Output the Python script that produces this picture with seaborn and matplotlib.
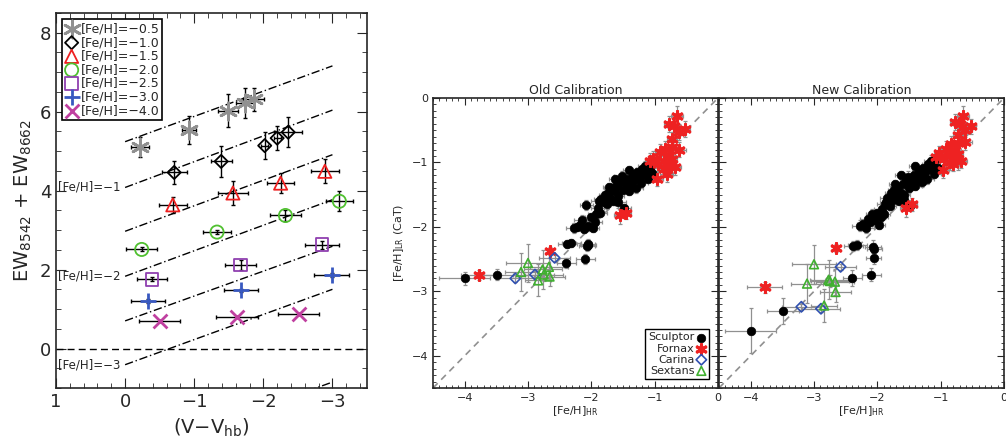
import matplotlib
matplotlib.use('Agg')
import matplotlib.pyplot as plt
from matplotlib.ticker import MultipleLocator
import seaborn as sns

# ---- left panel: CaT equivalent width vs (V - V_hb) ----
feh_labels = ['[Fe/H]=\u22120.5', '[Fe/H]=\u22121.0', '[Fe/H]=\u22121.5', '[Fe/H]=\u22122.0',
              '[Fe/H]=\u22122.5', '[Fe/H]=\u22123.0', '[Fe/H]=\u22124.0']

vhb_m05 = [-0.22, -0.92, -1.49, -1.73, -1.86]
ew_m05 = [5.11, 5.53, 6.02, 6.21, 6.31]
vhb_m10 = [-0.71, -1.39, -2.02, -2.20, -2.36]
ew_m10 = [4.46, 4.74, 5.14, 5.33, 5.48]
vhb_m15 = [-0.69, -1.56, -2.25, -2.89]
ew_m15 = [3.64, 3.94, 4.19, 4.49]
vhb_m20 = [-0.24, -1.33, -2.32, -3.10]
ew_m20 = [2.51, 2.95, 3.37, 3.73]
vhb_m25 = [-0.39, -1.67, -2.85]
ew_m25 = [1.75, 2.12, 2.63]
vhb_m30 = [-0.33, -1.68, -2.99]
ew_m30 = [1.20, 1.47, 1.86]
vhb_m40 = [-0.50, -1.62, -2.51]
ew_m40 = [0.70, 0.81, 0.87]

vhb_err = [[0.13, 0.10, 0.15, 0.13, 0.15], [0.18, 0.15, 0.05, 0.05, 0.20],
           [0.20, 0.22, 0.20, 0.20], [0.22, 0.20, 0.22, 0.20],
           [0.22, 0.23, 0.25], [0.25, 0.25, 0.25], [0.30, 0.30, 0.30]]
ew_err = [[0.25, 0.35, 0.42, 0.38, 0.30], [0.30, 0.40, 0.35, 0.30, 0.38],
          [0.20, 0.30, 0.25, 0.30], [0.05, 0.05, 0.15, 0.25],
          [0.05, 0.12, 0.10], [0.05, 0.05, 0.05], [0.02, 0.02, 0.02]]

# calibration lines, value at (V-Vhb)=0 and at (V-Vhb)=-3
calib_x = [0, -3]
calib_start = [5.24, 4.08, 2.97, 1.83, 0.70, -0.41, -2.75]
calib_end = [7.16, 6.04, 4.91, 3.77, 2.59, 1.50, -0.85]
calib_text = ['[Fe/H]=\u22121', '[Fe/H]=\u22122', '[Fe/H]=\u22123']
calib_text_y = [4.08, 1.83, -0.41]

# ---- right panels: low-res vs high-res metallicities ----
scl_hr = [-4.00, -3.49, -2.40, -2.10, -2.06, -2.07, -2.05, -2.38, -2.32,
          -2.28, -2.22, -2.18, -2.12, -2.05, -1.98, -1.95, -2.08, -1.93, -1.90,
          -1.86, -1.84, -1.80, -1.78, -1.75, -1.73, -1.70, -1.68, -1.66, -1.63,
          -1.60, -1.58, -1.55, -1.52, -1.50, -1.48, -1.45, -1.42, -1.40, -1.37,
          -1.35, -1.32, -1.30, -1.28, -1.25, -1.22, -1.20, -1.18, -1.15, -1.12,
          -1.10, -1.07, -1.05, -1.62, -1.88, -2.00, -2.15, -1.72, -1.40, -1.58]
scl_old = [-2.80, -2.74, -2.56, -2.50, -2.27, -2.29, -2.28, -2.27, -2.25,
           -2.02, -2.00, -1.97, -2.03, -1.99, -2.02, -1.92, -1.66, -1.80, -1.70,
           -1.78, -1.57, -1.62, -1.50, -1.65, -1.47, -1.55, -1.40, -1.60, -1.45,
           -1.35, -1.52, -1.30, -1.21, -1.42, -1.70, -1.33, -1.25, -1.45, -1.36,
           -1.18, -1.28, -1.40, -1.15, -1.22, -1.32, -1.10, -1.20, -1.05, -1.14,
           -1.25, -1.08, -1.17, -1.25, -1.60, -1.85, -1.90, -1.38, -1.12, -1.62]
scl_new = [-3.61, -3.31, -2.79, -2.74, -2.48, -2.31, -2.35, -2.30, -2.28,
           -1.98, -1.95, -2.01, -1.93, -1.90, -1.97, -1.85, -1.80, -1.72, -1.80,
           -1.62, -1.55, -1.68, -1.48, -1.58, -1.42, -1.52, -1.38, -1.60, -1.47,
           -1.33, -1.50, -1.28, -1.22, -1.40, -1.68, -1.30, -1.20, -1.36, -1.25,
           -1.12, -1.20, -1.30, -1.08, -1.15, -1.25, -1.02, -1.10, -0.97, -1.05,
           -1.18, -0.95, -1.08, -1.20, -1.65, -1.78, -1.88, -1.33, -1.05, -1.58]
scl_hr_err = [0.40, 0.25, 0.15, 0.15, 0.12, 0.12, 0.12, 0.15, 0.15,
              0.12, 0.10, 0.12, 0.10, 0.12, 0.10, 0.12, 0.10, 0.12, 0.10,
              0.10, 0.12, 0.10, 0.10, 0.12, 0.10, 0.10, 0.12, 0.10, 0.10,
              0.12, 0.10, 0.10, 0.12, 0.10, 0.10, 0.12, 0.10, 0.10, 0.12,
              0.10, 0.10, 0.12, 0.10, 0.10, 0.12, 0.10, 0.10, 0.12, 0.10,
              0.10, 0.12, 0.10, 0.10, 0.12, 0.10, 0.12, 0.10, 0.10, 0.12]
scl_old_err = [0.10, 0.08, 0.08, 0.08, 0.08, 0.08, 0.08, 0.06, 0.06,
               0.08, 0.06, 0.08, 0.06, 0.08, 0.06, 0.08, 0.08, 0.06, 0.08,
               0.06, 0.08, 0.06, 0.06, 0.08, 0.06, 0.06, 0.08, 0.06, 0.06,
               0.08, 0.06, 0.06, 0.08, 0.06, 0.06, 0.08, 0.06, 0.06, 0.08,
               0.06, 0.06, 0.08, 0.06, 0.06, 0.08, 0.06, 0.06, 0.08, 0.06,
               0.06, 0.08, 0.06, 0.06, 0.08, 0.06, 0.08, 0.06, 0.06, 0.08]
scl_new_err = [0.35, 0.20, 0.12, 0.10, 0.10, 0.10, 0.10, 0.08, 0.08,
               0.08, 0.06, 0.08, 0.06, 0.08, 0.06, 0.08, 0.08, 0.06, 0.08,
               0.06, 0.08, 0.06, 0.06, 0.08, 0.06, 0.06, 0.08, 0.06, 0.06,
               0.08, 0.06, 0.06, 0.08, 0.06, 0.06, 0.08, 0.06, 0.06, 0.08,
               0.06, 0.06, 0.08, 0.06, 0.06, 0.08, 0.06, 0.06, 0.08, 0.06,
               0.06, 0.08, 0.06, 0.06, 0.08, 0.06, 0.08, 0.06, 0.06, 0.08]

fnx_hr = [-3.78, -2.65, -1.54, -1.45, -0.65, -0.78, -0.70, -0.52, -0.61,
          -0.73, -0.73, -0.83, -0.61, -0.91, -0.78, -1.02, -0.86, -0.73,
          -0.94, -0.78, -0.68, -0.86, -0.97, -1.07, -0.81]
fnx_old = [-2.75, -2.37, -1.81, -1.78, -0.28, -0.40, -0.44, -0.48, -0.53,
           -0.64, -0.76, -0.79, -0.80, -0.84, -0.89, -0.94, -0.97, -0.94,
           -1.02, -1.05, -1.07, -1.10, -1.25, -0.97, -1.18]
fnx_new = [-2.94, -2.33, -1.70, -1.65, -0.28, -0.37, -0.41, -0.44, -0.49,
           -0.58, -0.70, -0.71, -0.69, -0.79, -0.81, -0.86, -0.89, -0.87,
           -0.94, -0.94, -0.97, -1.00, -1.12, -0.92, -1.02]
fnx_hr_err = [0.28, 0.05, 0.10, 0.08, 0.10, 0.08, 0.10, 0.08, 0.10,
              0.08, 0.10, 0.08, 0.10, 0.08, 0.10, 0.08, 0.10, 0.08,
              0.10, 0.08, 0.10, 0.08, 0.10, 0.08, 0.10]
fnx_lr_err = [0.08, 0.06, 0.15, 0.10, 0.15, 0.12, 0.12, 0.12, 0.12,
              0.12, 0.15, 0.12, 0.12, 0.12, 0.12, 0.12, 0.12, 0.25,
              0.12, 0.12, 0.12, 0.12, 0.12, 0.12, 0.12]

car_hr = [-3.20, -2.89, -2.58]
car_old = [-2.80, -2.74, -2.48]
car_new = [-3.24, -3.27, -2.62]
car_hr_err = [0.30, 0.30, 0.25]
car_lr_err = [0.05, 0.05, 0.05]

sex_hr = [-3.00, -3.11, -2.77, -2.67, -2.66, -2.84, -2.75]
sex_old = [-2.56, -2.70, -2.66, -2.62, -2.77, -2.83, -2.74]
sex_new = [-2.58, -2.88, -2.82, -2.85, -3.01, -3.22, -2.84]
sex_hr_err = [0.35, 0.25, 0.30, 0.30, 0.25, 0.20, 0.30]
sex_lr_err = [0.30, 0.30, 0.30, 0.20, 0.15, 0.25, 0.10]

galaxy_names = ['Sculptor', 'Fornax', 'Carina', 'Sextans']

# ---- drawing ----
sns.set_style('ticks')
plt.rcParams['font.family'] = ['DejaVu Sans']

fig = plt.figure(figsize=(10.06, 4.42), dpi=100)
ax1 = fig.add_axes([56 / 1006, 1 - 388 / 442, 311 / 1006, 375 / 442])
ax2 = fig.add_axes([433 / 1006, 1 - 388 / 442, 285 / 1006, 290 / 442])
ax3 = fig.add_axes([719 / 1006, 1 - 388 / 442, 285 / 1006, 290 / 442], sharey=ax2)

# left panel
xs_all = [vhb_m05, vhb_m10, vhb_m15, vhb_m20, vhb_m25, vhb_m30, vhb_m40]
ys_all = [ew_m05, ew_m10, ew_m15, ew_m20, ew_m25, ew_m30, ew_m40]
colors = ['#909090', 'black', '#ee2020', '#50c030', '#9040b0', '#3858c0', '#c040a0']
markers = [(6, 2, 0), 'D', '^', 'o', 's', '+', 'x']
sizes = [150, 45, 90, 90, 80, 130, 100]

for s, e in zip(calib_start, calib_end):
    ax1.plot(calib_x, [s, e], color='black', lw=1, ls=(0, (6, 2, 1, 2)))
ax1.axhline(0, color='black', lw=1, ls=(0, (5, 3)))
for t, ty in zip(calib_text, calib_text_y):
    ax1.text(0.97, ty, t, fontsize=8.5, va='center', ha='left')

for i in range(len(xs_all)):
    ax1.errorbar(xs_all[i], ys_all[i], xerr=vhb_err[i], yerr=ew_err[i], fmt='none',
                 ecolor='black', elinewidth=1, capsize=1.5, capthick=1, zorder=3)
    if markers[i] in ['D', '^', 'o', 's']:
        sns.scatterplot(x=xs_all[i], y=ys_all[i], marker=markers[i], s=sizes[i],
                        facecolor='none', edgecolor=colors[i], linewidth=1.3,
                        ax=ax1, zorder=4, label=feh_labels[i])
    else:
        sns.scatterplot(x=xs_all[i], y=ys_all[i], marker=markers[i], s=sizes[i],
                        color=colors[i], linewidth=2, ax=ax1, zorder=4,
                        label=feh_labels[i])

ax1.set_xlim(1, -3.5)
ax1.set_ylim(-1, 8.5)
ax1.xaxis.set_major_locator(MultipleLocator(1))
ax1.xaxis.set_minor_locator(MultipleLocator(0.2))
ax1.yaxis.set_major_locator(MultipleLocator(2))
ax1.yaxis.set_minor_locator(MultipleLocator(0.5))
ax1.set_xticks([1, 0, -1, -2, -3])
ax1.set_xticklabels(['1', '0', '\u22121', '\u22122', '\u22123'])
ax1.tick_params(which='both', direction='in', top=True, right=True, labelsize=13)
ax1.tick_params(which='major', length=7)
ax1.tick_params(which='minor', length=3.5)
ax1.set_xlabel('(V\u2212V$_{\\rm hb}$)', fontsize=14)
ax1.set_ylabel('EW$_{8542}$ + EW$_{8662}$', fontsize=14)
leg = ax1.legend(loc='upper left', fontsize=9, handletextpad=0.2, borderpad=0.25,
                 labelspacing=0.05, handlelength=1.0, borderaxespad=0.5,
                 fancybox=False, edgecolor='black', framealpha=1)
leg.get_frame().set_linewidth(1.2)

# right panels
def calib_panel(ax, ys, scl_err, title):
    hr_sets = [scl_hr, fnx_hr, car_hr, sex_hr]
    hr_errs = [scl_hr_err, fnx_hr_err, car_hr_err, sex_hr_err]
    lr_errs = [scl_err, fnx_lr_err, car_lr_err, sex_lr_err]
    ax.plot([-4.5, 0], [-4.5, 0], color='#909090', lw=1.2, ls=(0, (4, 3)), zorder=1)
    for k in range(4):
        ax.errorbar(hr_sets[k], ys[k], xerr=hr_errs[k], yerr=lr_errs[k], fmt='none',
                    ecolor='#909090', elinewidth=0.9, capsize=1.2, capthick=0.9, zorder=2)
    sns.scatterplot(x=scl_hr, y=ys[0], marker='o', s=38, color='black',
                    edgecolor='black', linewidth=0.5, ax=ax, zorder=3, label=galaxy_names[0])
    sns.scatterplot(x=fnx_hr, y=ys[1], marker=(6, 2, 0), s=50, color='#ee2222',
                    linewidth=2.2, ax=ax, zorder=4, label=galaxy_names[1])
    sns.scatterplot(x=car_hr, y=ys[2], marker='D', s=28, facecolor='none',
                    edgecolor='#3050b0', linewidth=1.2, ax=ax, zorder=4, label=galaxy_names[2])
    sns.scatterplot(x=sex_hr, y=ys[3], marker='^', s=40, facecolor='none',
                    edgecolor='#40b030', linewidth=1.2, ax=ax, zorder=4, label=galaxy_names[3])
    ax.set_xlim(-4.5, 0)
    ax.set_ylim(-4.5, 0)
    ax.xaxis.set_major_locator(MultipleLocator(1))
    ax.xaxis.set_minor_locator(MultipleLocator(0.1))
    ax.yaxis.set_major_locator(MultipleLocator(1))
    ax.yaxis.set_minor_locator(MultipleLocator(0.1))
    ax.tick_params(which='both', direction='in', top=True, right=True, labelsize=8)
    ax.tick_params(which='major', length=5)
    ax.tick_params(which='minor', length=2.5)
    ax.set_xticks([-4, -3, -2, -1, 0])
    ax.set_xticklabels(['\u22124', '\u22123', '\u22122', '\u22121', '0'])
    ax.set_title(title, fontsize=9, pad=3)
    ax.set_xlabel('[Fe/H]$_{\\rm HR}$', fontsize=8, labelpad=1)

calib_panel(ax2, [scl_old, fnx_old, car_old, sex_old], scl_old_err, 'Old Calibration')
calib_panel(ax3, [scl_new, fnx_new, car_new, sex_new], scl_new_err, 'New Calibration')

ax2.set_yticks([0, -1, -2, -3, -4])
ax2.set_yticklabels(['0', '\u22121', '\u22122', '\u22123', '\u22124'])
ax2.set_ylabel('[Fe/H]$_{\\rm LR}$ (CaT)', fontsize=8)
ax3.tick_params(labelleft=False)
ax3.get_legend().remove()
leg2 = ax2.legend(loc='lower right', fontsize=8, markerfirst=False, handletextpad=0.2,
                  borderpad=0.3, labelspacing=0.1, handlelength=0.8,
                  fancybox=False, edgecolor='black', framealpha=1, borderaxespad=0.8)
leg2.get_frame().set_linewidth(1.0)

for ax in [ax1, ax2, ax3]:
    for sp in ax.spines.values():
        sp.set_linewidth(1.2)

fig.savefig('out.png', dpi=100)
